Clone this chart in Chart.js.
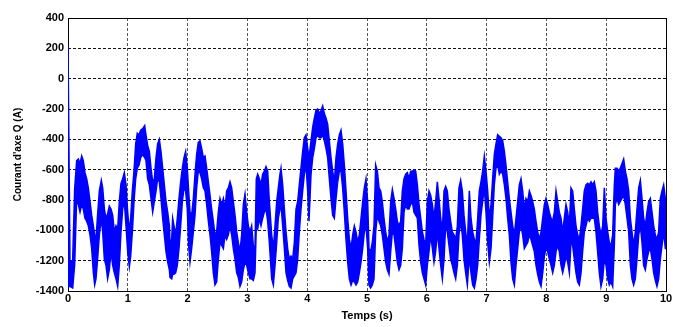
<!DOCTYPE html>
<html lang="fr">
<head>
    <meta charset="UTF-8">
    <title>Courant d'axe Q</title>
    <script src="https://cdn.jsdelivr.net/npm/chart.js"></script>
    <style>
        html, body { margin: 0; padding: 0; background: #fff; }
        canvas { display: block; }
    </style>
</head>
<body>
    <canvas id="courantQ" width="673" height="327"></canvas>

    <script>
        // Temps (s) et enveloppe haute / basse du courant Iq (A)
        const temps = [
            0.000, 0.033, 0.078, 0.111, 0.145, 0.173, 0.201, 0.229, 0.256, 0.284, 0.312, 0.340, 0.368, 0.396, 0.424, 0.446, 0.468, 0.491, 0.524, 0.557,
            0.580, 0.608, 0.635, 0.663, 0.691, 0.719, 0.747, 0.775, 0.803, 0.831, 0.858, 0.886, 0.914, 0.942, 0.970, 0.998, 1.026, 1.048, 1.076, 1.104,
            1.132, 1.159, 1.187, 1.215, 1.249, 1.282, 1.304, 1.332, 1.360, 1.388, 1.416, 1.444, 1.472, 1.499, 1.527, 1.555, 1.583, 1.611, 1.639, 1.667,
            1.695, 1.706, 1.734, 1.750, 1.773, 1.800, 1.828, 1.856, 1.884, 1.912, 1.940, 1.967, 1.995, 2.017, 2.040, 2.068, 2.096, 2.124, 2.151, 2.179,
            2.207, 2.235, 2.263, 2.291, 2.319, 2.347, 2.375, 2.402, 2.430, 2.458, 2.486, 2.514, 2.542, 2.570, 2.598, 2.625, 2.653, 2.681, 2.709, 2.737,
            2.765, 2.793, 2.821, 2.848, 2.876, 2.904, 2.932, 2.960, 2.988, 3.016, 3.043, 3.071, 3.099, 3.127, 3.149, 3.172, 3.200, 3.227, 3.255, 3.283,
            3.311, 3.339, 3.367, 3.406, 3.434, 3.462, 3.490, 3.517, 3.545, 3.562, 3.590, 3.618, 3.646, 3.673, 3.701, 3.729, 3.757, 3.785, 3.813, 3.841,
            3.868, 3.896, 3.924, 3.952, 3.980, 4.008, 4.030, 4.064, 4.092, 4.120, 4.147, 4.175, 4.203, 4.231, 4.259, 4.287, 4.314, 4.342, 4.370, 4.398,
            4.426, 4.454, 4.482, 4.510, 4.538, 4.565, 4.593, 4.621, 4.649, 4.677, 4.705, 4.733, 4.761, 4.788, 4.816, 4.844, 4.872, 4.900, 4.928, 4.955,
            4.983, 5.011, 5.033, 5.061, 5.089, 5.117, 5.145, 5.173, 5.201, 5.229, 5.256, 5.284, 5.312, 5.340, 5.368, 5.396, 5.424, 5.452, 5.480, 5.507,
            5.535, 5.563, 5.591, 5.619, 5.647, 5.675, 5.702, 5.730, 5.758, 5.786, 5.814, 5.842, 5.870, 5.898, 5.926, 5.953, 5.981, 6.009, 6.037, 6.065,
            6.093, 6.120, 6.148, 6.176, 6.204, 6.232, 6.260, 6.288, 6.315, 6.343, 6.371, 6.399, 6.427, 6.455, 6.483, 6.511, 6.538, 6.566, 6.594, 6.622,
            6.650, 6.678, 6.711, 6.739, 6.767, 6.795, 6.823, 6.851, 6.878, 6.906, 6.934, 6.962, 6.990, 7.018, 7.046, 7.074, 7.101, 7.129, 7.157, 7.185,
            7.213, 7.241, 7.269, 7.297, 7.324, 7.352, 7.380, 7.408, 7.436, 7.464, 7.492, 7.520, 7.547, 7.575, 7.603, 7.631, 7.659, 7.687, 7.715, 7.743,
            7.770, 7.798, 7.826, 7.854, 7.882, 7.910, 7.938, 7.966, 7.993, 8.021, 8.049, 8.077, 8.105, 8.133, 8.161, 8.188, 8.216, 8.244, 8.272, 8.300,
            8.328, 8.356, 8.384, 8.411, 8.439, 8.467, 8.495, 8.523, 8.551, 8.579, 8.606, 8.634, 8.662, 8.690, 8.718, 8.746, 8.774, 8.801, 8.829, 8.857,
            8.885, 8.913, 8.941, 8.969, 8.997, 9.025, 9.052, 9.080, 9.108, 9.136, 9.153, 9.181, 9.209, 9.236, 9.264, 9.292, 9.320, 9.348, 9.376, 9.404,
            9.431, 9.459, 9.487, 9.515, 9.543, 9.571, 9.599, 9.626, 9.654, 9.682, 9.710, 9.738, 9.766, 9.794, 9.821, 9.849, 9.877, 9.905, 9.933, 9.961,
            9.989, 10.000
        ];

        const iqHaut = [
            220, -1200, -1200, -730, -540, -530, -560, -510, -540, -620, -660, -720, -810, -900, -970, -1030, -1060, -920, -740, -670,
            -720, -860, -920, -890, -840, -860, -900, -1010, -970, -990, -810, -690, -660, -620, -700, -880, -1010, -920, -740, -610,
            -430, -360, -370, -340, -330, -310, -370, -440, -480, -590, -680, -660, -520, -430, -400, -480, -590, -700, -810, -880,
            -970, -1080, -1060, -920, -970, -1030, -920, -790, -680, -590, -520, -480, -590, -740, -880, -900, -790, -630, -500, -420,
            -410, -460, -520, -510, -590, -680, -770, -860, -940, -1030, -1010, -880, -790, -830, -790, -860, -740, -720, -680, -720,
            -810, -900, -1010, -1080, -1140, -1030, -830, -760, -880, -970, -1010, -970, -1100, -1120, -660, -630, -660, -700, -630, -610,
            -580, -610, -810, -1030, -1120, -970, -810, -720, -630, -590, -700, -860, -1010, -1120, -1190, -1170, -1190, -1080, -860, -810,
            -700, -590, -480, -390, -370, -460, -520, -410, -320, -260, -210, -200, -230, -210, -180, -230, -260, -300, -410, -520,
            -610, -680, -520, -430, -370, -340, -430, -570, -740, -920, -1060, -1120, -1030, -970, -1010, -1080, -1030, -920, -810, -720,
            -660, -810, -1120, -1140, -1080, -970, -570, -610, -720, -740, -810, -920, -1010, -1080, -1030, -810, -730, -790, -860, -940,
            -970, -940, -740, -660, -630, -620, -660, -610, -610, -600, -610, -700, -830, -920, -1010, -1060, -1100, -810, -740, -770,
            -830, -920, -810, -680, -790, -920, -1010, -740, -710, -740, -860, -940, -1010, -1030, -1060, -970, -720, -670, -740, -900,
            -1010, -1100, -740, -920, -1010, -1060, -1080, -920, -740, -680, -610, -510, -610, -740, -920, -830, -660, -500, -430, -370,
            -380, -390, -410, -480, -570, -680, -790, -880, -970, -1030, -920, -810, -700, -660, -740, -860, -790, -810, -740, -770,
            -810, -860, -940, -1010, -1060, -1010, -920, -830, -790, -830, -880, -920, -940, -880, -740, -810, -880, -920, -1010, -920,
            -830, -880, -970, -720, -740, -860, -970, -1030, -1060, -970, -860, -740, -700, -690, -700, -680, -700, -680, -740, -880,
            -970, -1030, -970, -720, -920, -1010, -1080, -1100, -1030, -700, -590, -590, -610, -590, -560, -530, -610, -660, -740, -920,
            -1010, -1100, -1010, -860, -720, -670, -790, -920, -970, -880, -810, -790, -880, -970, -1030, -1060, -1010, -790, -740, -700,
            -790, -810
        ];

        const iqBas = [
            -1370, -1370, -1380, -1230, -790, -830, -880, -830, -860, -920, -940, -970, -1030, -1120, -1280, -1360, -1320, -1210, -1030, -920,
            -1010, -1190, -1230, -1320, -1260, -1140, -1230, -1280, -1320, -1370, -1230, -1010, -860, -810, -970, -1140, -1240, -1170, -1010, -810,
            -660, -590, -570, -520, -500, -520, -540, -660, -700, -790, -880, -810, -740, -660, -680, -790, -920, -1030, -1140, -1210,
            -1260, -1310, -1320, -1290, -1290, -1280, -1230, -1120, -970, -810, -720, -740, -860, -1100, -1210, -1120, -1010, -900, -720, -610,
            -620, -660, -720, -740, -830, -940, -1030, -1140, -1280, -1360, -1340, -1190, -1080, -1100, -1120, -1030, -1060, -1030, -970, -1030,
            -1120, -1190, -1280, -1310, -1370, -1340, -1260, -1210, -1230, -1280, -1320, -1320, -1330, -1280, -970, -990, -920, -970, -920, -880,
            -860, -940, -1080, -1320, -1360, -1230, -1080, -920, -860, -830, -970, -1120, -1280, -1330, -1370, -1380, -1320, -1300, -1280, -1190,
            -1010, -860, -740, -630, -570, -740, -940, -630, -520, -460, -390, -370, -390, -390, -370, -410, -460, -520, -660, -790,
            -900, -920, -790, -680, -610, -610, -720, -880, -1060, -1210, -1320, -1360, -1330, -1340, -1360, -1340, -1280, -1210, -1120, -1010,
            -970, -1120, -1360, -1380, -1360, -1320, -1010, -900, -940, -970, -1030, -1120, -1210, -1260, -1290, -1140, -1010, -1030, -1120, -1210,
            -1260, -1230, -1120, -880, -830, -860, -860, -830, -810, -880, -900, -920, -1100, -1210, -1280, -1320, -1360, -1230, -1140, -1030,
            -1120, -1210, -1140, -1010, -1120, -1230, -1320, -1190, -970, -1010, -1100, -1190, -1230, -1280, -1320, -1230, -1030, -940, -1030, -1190,
            -1280, -1360, -1170, -1280, -1360, -1380, -1320, -1230, -1060, -900, -810, -720, -880, -1080, -1210, -1120, -920, -700, -590, -570,
            -630, -610, -630, -700, -790, -920, -1030, -1210, -1320, -1360, -1230, -1120, -1010, -970, -1030, -1120, -1100, -1080, -1030, -1060,
            -1100, -1140, -1230, -1290, -1340, -1370, -1280, -1170, -1120, -1140, -1190, -1230, -1280, -1230, -1140, -1100, -1140, -1230, -1280, -1230,
            -1170, -1210, -1280, -1080, -1100, -1190, -1280, -1340, -1360, -1280, -1140, -1010, -970, -920, -940, -920, -920, -920, -1010, -1140,
            -1280, -1370, -1320, -1190, -1230, -1320, -1360, -1340, -1370, -1100, -830, -790, -830, -810, -790, -770, -830, -920, -1010, -1230,
            -1320, -1360, -1320, -1190, -1030, -970, -1080, -1230, -1260, -1190, -1140, -1120, -1190, -1280, -1330, -1370, -1320, -1190, -1100, -1010,
            -1120, -1120
        ];

        const ticksTemps = [0, 1, 2, 3, 4, 5, 6, 7, 8, 9, 10];
        const ticksCourant = [-1400, -1200, -1000, -800, -600, -400, -200, 0, 200, 400];

        const BLEU = '#0000ff';
        const policeTicks = { family: "'Liberation Sans', Arial, sans-serif", size: 11, weight: 'bold' };

        const hautPts = temps.map((t, i) => ({ x: t, y: iqHaut[i] }));
        const basPts = temps.map((t, i) => ({ x: t, y: iqBas[i] }));

        // cadre plein autour de la zone de tracé (style Matlab)
        const cadre = {
            id: 'cadre',
            beforeDatasetsDraw(chart) {
                const { ctx, chartArea: a } = chart;
                ctx.save();
                ctx.strokeStyle = '#000';
                ctx.lineWidth = 1;
                ctx.strokeRect(Math.round(a.left) + 0.5, Math.round(a.top) + 0.5,
                    Math.round(a.right - a.left), Math.round(a.bottom - a.top));
                ctx.restore();
            }
        };

        new Chart(document.getElementById('courantQ'), {
            type: 'line',
            data: {
                datasets: [
                    {
                        data: hautPts,
                        borderColor: BLEU,
                        borderWidth: 1.5,
                        pointRadius: 0,
                        fill: false
                    },
                    {
                        data: basPts,
                        borderColor: BLEU,
                        backgroundColor: BLEU,
                        borderWidth: 1.5,
                        pointRadius: 0,
                        fill: '-1'
                    }
                ]
            },
            options: {
                responsive: false,
                animation: false,
                events: [],
                layout: { padding: { top: 18, right: 7, left: 0, bottom: 0 } },
                plugins: {
                    legend: { display: false },
                    tooltip: { enabled: false }
                },
                scales: {
                    x: {
                        type: 'linear',
                        min: 0,
                        max: 10,
                        afterBuildTicks: s => { s.ticks = ticksTemps.map(v => ({ value: v })); },
                        afterFit: s => { s.height = 36; s.paddingLeft = 0; s.paddingRight = 0; },
                        ticks: { color: '#000', font: policeTicks, padding: 1, maxRotation: 0, callback: v => String(v) },
                        grid: { color: '#555', drawTicks: false },
                        border: { display: false, dash: [3, 2] },
                        title: {
                            display: true,
                            text: 'Temps (s)',
                            color: '#000',
                            font: { family: "'Liberation Sans', Arial, sans-serif", size: 11, weight: 'bold' },
                            padding: { top: 0, bottom: 4 }
                        }
                    },
                    y: {
                        min: -1400,
                        max: 400,
                        afterBuildTicks: s => { s.ticks = ticksCourant.map(v => ({ value: v })); },
                        afterFit: s => { s.width = 68; s.paddingTop = 0; s.paddingBottom = 0; },
                        ticks: { color: '#000', font: policeTicks, padding: 4, callback: v => String(v) },
                        grid: { color: '#111', drawTicks: false },
                        border: { display: false, dash: [3, 2] },
                        title: {
                            display: true,
                            text: "Courant d'axe Q (A)",
                            color: '#000',
                            font: { family: "'Liberation Sans', Arial, sans-serif", size: 10, weight: 'bold' },
                            padding: { top: 12, bottom: 0 }
                        }
                    }
                }
            },
            plugins: [cadre]
        });
    </script>
</body>
</html>
